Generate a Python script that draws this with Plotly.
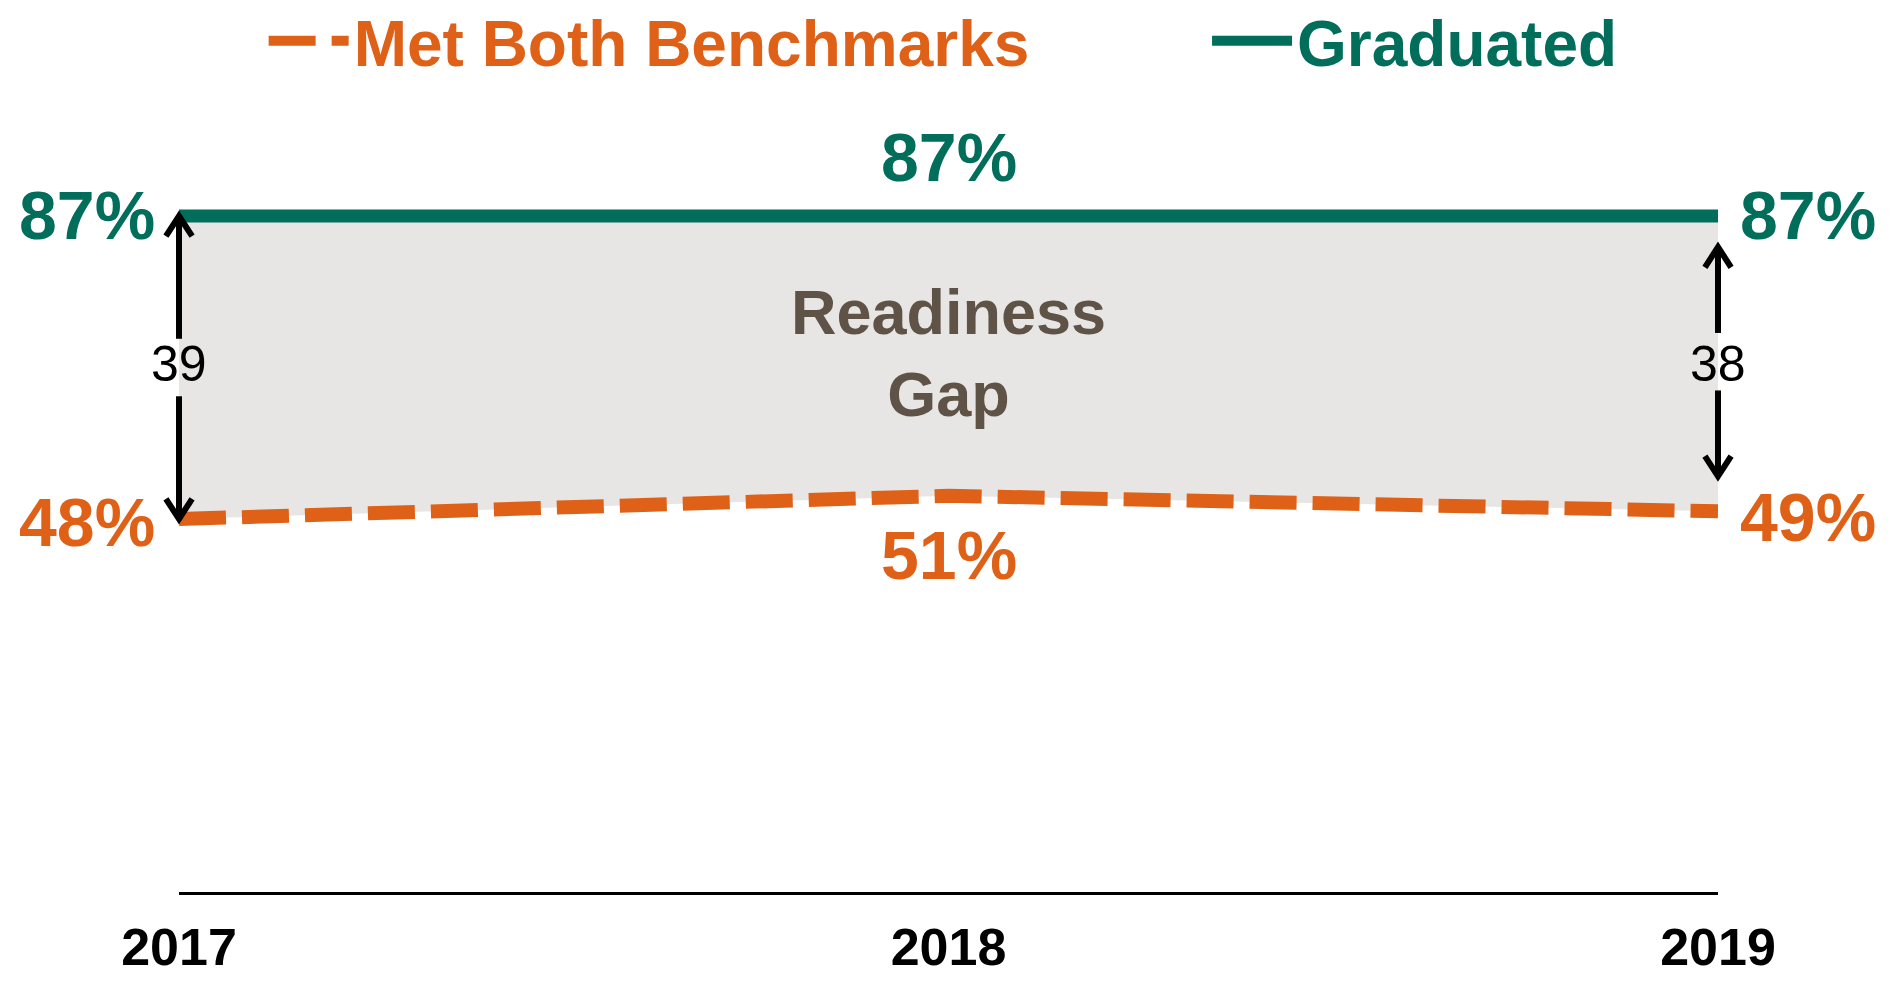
import plotly.graph_objects as go

years = [2017, 2018, 2019]
met_both = [48, 51, 49]
graduated = [87, 87, 87]
gap_years = [2017, 2019]
gap_values = [39, 38]

ORANGE = "#DF6118"
GREEN = "#006E5A"
FILL = "#E8E6E4"
GAPTXT = "#5E5346"
FONT = "Liberation Sans, Arial, sans-serif"
XMIN, XMAX = years[0], years[-1]

fig = go.Figure()

# invisible base for fill
fig.add_trace(go.Scatter(x=years, y=met_both, mode="lines", line=dict(width=0),
                         showlegend=False, hoverinfo="skip"))
fig.add_trace(go.Scatter(x=years, y=graduated, mode="lines", line=dict(width=0),
                         fill="tonexty", fillcolor=FILL, showlegend=False, hoverinfo="skip"))

fig.add_trace(go.Scatter(x=years, y=met_both, mode="lines", name="Met Both Benchmarks",
                         legend="legend",
                         line=dict(color=ORANGE, width=14, dash="47px,16px")))
fig.add_trace(go.Scatter(x=years, y=graduated, mode="lines", name="Graduated",
                         legend="legend2",
                         line=dict(color=GREEN, width=13)))

big = dict(family=FONT, size=68, weight="bold")

# left labels
fig.add_annotation(x=years[0], y=graduated[0], text=f"{graduated[0]}%", showarrow=False,
                   xanchor="right", xshift=-22, yshift=1, font=dict(**big, color=GREEN))
fig.add_annotation(x=years[0], y=met_both[0], text=f"{met_both[0]}%", showarrow=False,
                   xanchor="right", xshift=-22, yshift=-3, font=dict(**big, color=ORANGE))
# right labels
fig.add_annotation(x=years[2], y=graduated[2], text=f"{graduated[2]}%", showarrow=False,
                   xanchor="left", xshift=20, yshift=1, font=dict(**big, color=GREEN))
fig.add_annotation(x=years[2], y=met_both[2], text=f"{met_both[2]}%", showarrow=False,
                   xanchor="left", xshift=20, yshift=-6, font=dict(**big, color=ORANGE))
# middle labels
fig.add_annotation(x=years[1], y=graduated[1], text=f"{graduated[1]}%", showarrow=False,
                   yanchor="bottom", yshift=19, font=dict(**big, color=GREEN))
fig.add_annotation(x=years[1], y=met_both[1], text=f"{met_both[1]}%", showarrow=False,
                   yanchor="top", yshift=-19, font=dict(**big, color=ORANGE))

# Readiness gap text
fig.add_annotation(x=years[1], y=(graduated[1] + met_both[1]) / 2 + 0.4,
                   text="Readiness<br>Gap", showarrow=False,
                   font=dict(family=FONT, size=63, weight="bold", color=GAPTXT))

# gap arrows (shaft with break for the number, open chevron heads)
def add_gap_arrow(x, y_top, y_bot, value, yshift=0):
    px = (x - XMIN) / (XMAX - XMIN)
    mid = (y_top + y_bot) / 2
    brk = 3.7
    for a, b in [(y_top, mid + brk), (mid - brk, y_bot)]:
        fig.add_shape(type="line", x0=px, x1=px, y0=a, y1=b, xref="paper", yref="y",
                      line=dict(color="black", width=6))
    dx = 0.0085
    dy = 2.6
    fig.add_shape(type="path", xref="paper", yref="y",
                  path=f"M {px-dx},{y_top-dy} L {px},{y_top} L {px+dx},{y_top-dy}",
                  line=dict(color="black", width=6))
    fig.add_shape(type="path", xref="paper", yref="y",
                  path=f"M {px-dx},{y_bot+dy} L {px},{y_bot} L {px+dx},{y_bot+dy}",
                  line=dict(color="black", width=6))
    fig.add_annotation(x=x, y=mid, text=str(value), showarrow=False, yshift=yshift,
                       font=dict(family=FONT, size=50, color="black"))

add_gap_arrow(gap_years[0], graduated[0], met_both[0], gap_values[0], yshift=4)
add_gap_arrow(gap_years[1], graduated[2] - 4, met_both[2] + 4.5, gap_values[1], yshift=-2)

leg_common = dict(orientation="h", yanchor="middle", y=1.095, xanchor="left",
                  itemwidth=80, bgcolor="rgba(0,0,0,0)")

fig.update_layout(
    width=1895, height=981,
    paper_bgcolor="white", plot_bgcolor="white",
    margin=dict(l=179, r=177, t=115, b=89, autoexpand=False),
    showlegend=True,
    legend=dict(**leg_common, x=0.055,
                font=dict(family=FONT, size=64, weight="bold", color=ORANGE)),
    legend2=dict(**leg_common, x=0.668,
                 font=dict(family=FONT, size=64, weight="bold", color=GREEN)),
    xaxis=dict(range=[XMIN, XMAX], tickvals=years, ticktext=[str(y) for y in years],
               showgrid=False, zeroline=False, showline=True, linecolor="black",
               linewidth=3, ticks="", ticklabelstandoff=8,
               tickfont=dict(family=FONT, size=52, weight="bold", color="black")),
    yaxis=dict(range=[0, 100], visible=False, showgrid=False, zeroline=False),
)

fig.write_html("out.html", config={"displayModeBar": False},
               post_script="document.body.style.margin='0';document.body.style.overflow='hidden';")
